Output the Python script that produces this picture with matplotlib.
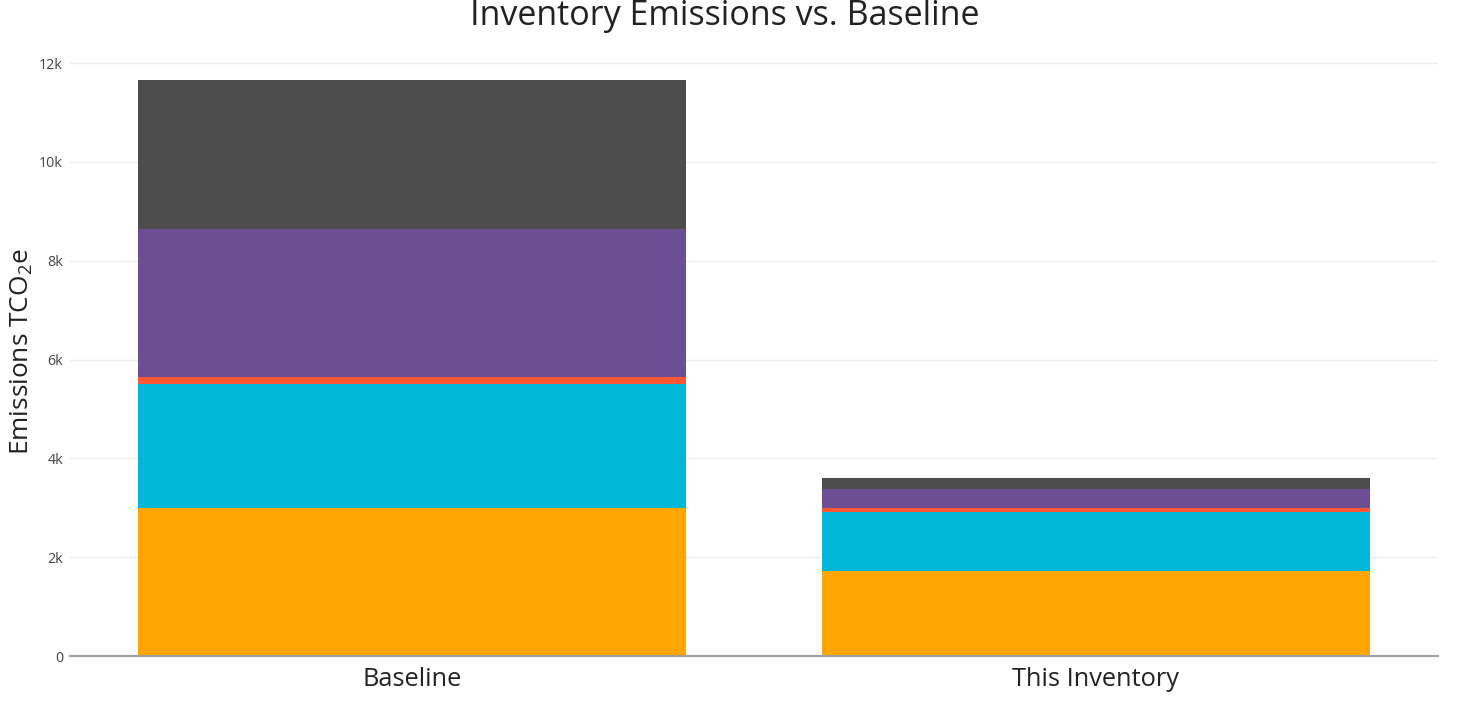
import matplotlib
matplotlib.use("Agg")
import matplotlib.pyplot as plt
import numpy as np

categories = ["Baseline", "This Inventory"]
s_orange = [2990, 1715]
s_cyan = [2510, 1194]
s_red = [142, 81]
s_purple = [3002, 384]
s_dark = [3010, 223]
series = [s_orange, s_cyan, s_red, s_purple, s_dark]
colors = ["#FFA600", "#00B7D8", "#FF5733", "#6B4E93", "#4D4D4D"]
yticks = [0, 2000, 4000, 6000, 8000, 10000, 12000]
ytick_labels = ["0", "2k", "4k", "6k", "8k", "10k", "12k"]

plt.rcParams['font.family'] = ['Open Sans', 'DejaVu Sans']
plt.rcParams['mathtext.fontset'] = 'custom'
plt.rcParams['mathtext.rm'] = 'Open Sans'
plt.rcParams['mathtext.it'] = 'Open Sans'

W, H = 1459, 701
fig = plt.figure(figsize=(W/100, H/100), dpi=100)
left, right, bottom, top = 70, 1438, 656, 50
ax = fig.add_axes([left/W, 1-bottom/H, (right-left)/W, (bottom-top)/H])

x = np.arange(len(categories))
base = np.zeros(len(categories))
for vals, c in zip(series, colors):
    ax.bar(x, vals, bottom=base, width=0.8, color=c, zorder=3, linewidth=0)
    base = base + np.array(vals)

ax.set_xlim(-0.5, 1.5)
ax.set_ylim(0, 12267)
ax.set_yticks(yticks)
ax.set_yticklabels(ytick_labels, fontsize=10.3, color="#444444")
ax.set_xticks(x)
ax.set_xticklabels(categories, fontsize=18.3, color="#222222")
ax.tick_params(axis='both', length=0)
ax.tick_params(axis='y', pad=5)
ax.tick_params(axis='x', pad=8)
ax.grid(axis='y', color="#eeeeee", linewidth=1, zorder=0)
for s in ["top", "right", "left"]:
    ax.spines[s].set_visible(False)
ax.spines["bottom"].set_color("#9e9e9e")
ax.spines["bottom"].set_linewidth(1.5)
ax.spines["bottom"].set_zorder(4)

fig.text(22/W, 1-352/H, r"Emissions TCO$\mathregular{_2}$e", rotation=90,
         ha="center", va="center", fontsize=18.9, color="#222222")
fig.text(725/W, 1-25/H, "Inventory Emissions vs. Baseline", ha="center", va="baseline",
         fontsize=24.5, color="#222222")

fig.savefig("out.png", dpi=100)
